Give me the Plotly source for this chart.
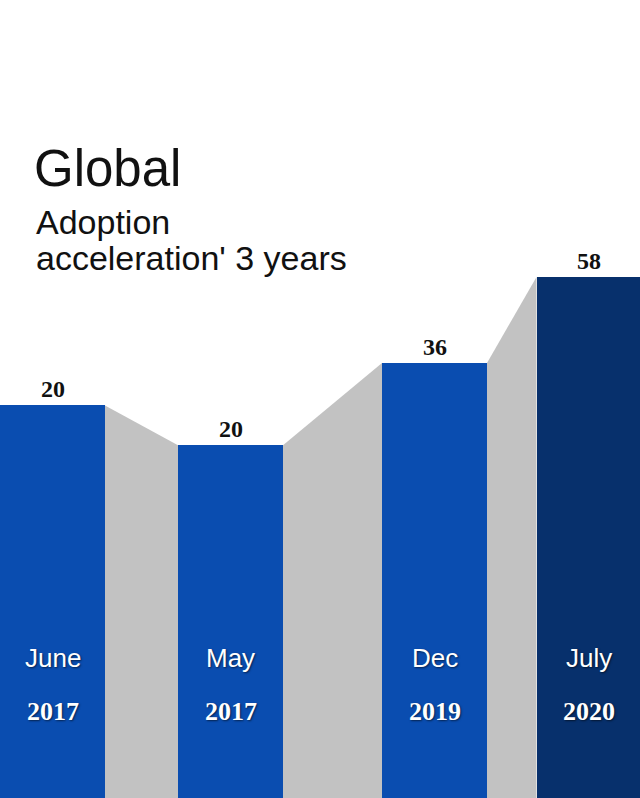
import plotly.graph_objects as go

# ---- data ----
months = ["June", "May", "Dec", "July"]
years = ["2017", "2017", "2019", "2020"]
value_labels = [20, 20, 36, 58]
bar_heights = [49.2, 44.2, 54.5, 65.3]   # visual heights as drawn (0-100 scale)
bar_colors = ["#0a4db0", "#0a4db0", "#0a4db0", "#07306c"]

# ---- layout constants ----
W, H = 640, 798
centers = [52.5, 230.5, 434.5, 589.0]
bw = 105
grey = "#c2c2c2"
shadow = "1px 1px 2px rgba(0,0,0,0.55)"

fig = go.Figure()

# grey connectors between bar tops
for i in range(len(bar_heights) - 1):
    xr = centers[i] + bw / 2
    xl = centers[i + 1] - bw / 2
    fig.add_trace(go.Scatter(
        x=[xr, xl, xl, xr, xr],
        y=[bar_heights[i], bar_heights[i + 1], 0, 0, bar_heights[i]],
        fill="toself", fillcolor=grey, mode="lines",
        line=dict(width=0, color=grey), hoverinfo="skip", showlegend=False,
    ))

fig.add_trace(go.Bar(
    x=centers, y=bar_heights, width=bw,
    marker=dict(color=bar_colors, line=dict(width=0)),
    showlegend=False, hoverinfo="skip",
))

ann = []
for c, h, v, m, yr in zip(centers, bar_heights, value_labels, months, years):
    ann.append(dict(x=c, y=h, xref="x", yref="y", text=f"<b>{v}</b>",
                    showarrow=False, yanchor="bottom", yshift=1,
                    font=dict(family="Liberation Serif", size=24, color="#111111")))
    ann.append(dict(x=c, y=1 - 658 / H, xref="x", yref="paper", text=m,
                    showarrow=False, yanchor="middle",
                    font=dict(family="Liberation Sans", size=26, color="white",
                              shadow=shadow)))
    ann.append(dict(x=c, y=1 - 711 / H, xref="x", yref="paper", text=f"<b>{yr}</b>",
                    showarrow=False, yanchor="middle",
                    font=dict(family="Liberation Serif", size=26, color="white",
                              shadow=shadow)))

ann.append(dict(x=32 / W, y=1 - 168 / H, xref="paper", yref="paper", text="Global",
                showarrow=False, xanchor="left", yanchor="middle",
                font=dict(family="Liberation Sans", size=51, color="#111111")))
ann.append(dict(x=34 / W, y=1 - 222 / H, xref="paper", yref="paper", text="Adoption",
                showarrow=False, xanchor="left", yanchor="middle",
                font=dict(family="Liberation Sans", size=34, color="#111111")))
ann.append(dict(x=34 / W, y=1 - 258 / H, xref="paper", yref="paper",
                text="acceleration' 3 years",
                showarrow=False, xanchor="left", yanchor="middle",
                font=dict(family="Liberation Sans", size=34, color="#111111")))

fig.update_layout(
    width=W, height=H,
    margin=dict(l=0, r=0, t=0, b=0),
    paper_bgcolor="white", plot_bgcolor="white",
    xaxis=dict(range=[0, W], visible=False, fixedrange=True),
    yaxis=dict(range=[0, 100], visible=False, fixedrange=True),
    annotations=ann, bargap=0,
)

fig.write_html("out.html", config={"displayModeBar": False},
               post_script="document.body.style.margin='0';document.body.style.overflow='hidden';")
